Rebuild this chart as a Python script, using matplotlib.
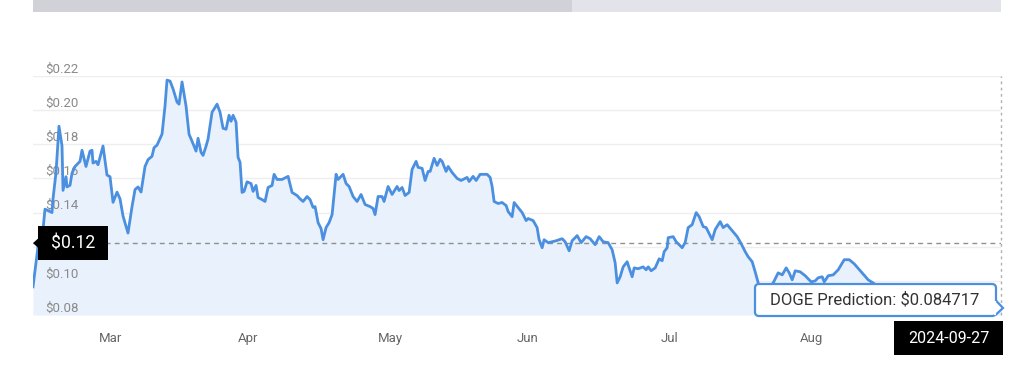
import matplotlib
matplotlib.use("Agg")
import matplotlib.pyplot as plt
import matplotlib.dates as mdates
import matplotlib.transforms as mtransforms
from matplotlib.patches import Rectangle, FancyBboxPatch, Polygon
import pandas as pd

plt.rcParams['font.family'] = ['Roboto', 'DejaVu Sans']

# ---------------- data ----------------
start_date = "2024-03-01"
day_offsets = [
    -1.53, -0.44, 0.66, 1.09, 2.62, 2.84, 3.50, 4.15, 4.81, 5.03,
    5.68, 5.90, 6.56, 6.99, 7.65, 8.74, 9.18, 10.05, 10.93, 11.37,
    11.58, 12.24, 12.68, 13.77, 14.64, 15.30, 15.96, 16.83, 17.49, 18.14,
    19.23, 20.11, 20.77, 21.42, 22.08, 22.95, 23.61, 24.48, 24.92, 25.57,
    26.67, 27.32, 27.76, 28.42, 29.07, 29.95, 30.38, 31.04, 31.91, 32.57,
    33.22, 34.10, 34.54, 35.19, 35.63, 36.28, 36.72, 37.60, 38.03, 38.69,
    39.34, 40.00, 40.66, 41.31, 41.75, 42.19, 42.84, 43.28, 43.72, 44.15,
    44.59, 45.25, 46.12, 46.56, 47.21, 47.65, 48.52, 49.18, 49.84, 50.71,
    51.15, 51.80, 52.90, 53.77, 54.21, 55.08, 56.17, 56.83, 57.49, 58.36,
    59.02, 59.67, 60.11, 60.77, 61.42, 61.86, 62.51, 63.17, 63.83, 64.70,
    65.14, 66.23, 66.89, 67.54, 68.42, 69.29, 70.16, 71.04, 72.13, 72.79,
    73.22, 73.88, 74.75, 75.19, 76.07, 76.94, 78.03, 78.47, 79.13, 79.78,
    80.66, 81.31, 82.19, 82.62, 83.50, 84.15, 84.81, 85.25, 86.12, 86.78,
    87.43, 87.87, 88.74, 89.18, 90.05, 91.15, 92.02, 93.33, 93.77, 94.64,
    95.30, 96.17, 97.70, 98.36, 98.80, 99.23, 100.11, 100.98, 101.86, 102.30,
    103.17, 103.61, 104.48, 105.36, 106.23, 106.67, 107.76, 108.63, 109.07, 109.73,
    110.16, 111.04, 111.91, 112.79, 113.44, 114.10, 114.75, 115.63, 116.28, 117.38,
    118.25, 119.34, 120.22, 121.31, 122.19, 123.06, 124.15, 125.03, 125.68, 126.12,
    126.78, 127.43, 128.31, 128.74, 129.40, 129.84, 130.71, 131.80, 132.46, 132.90,
    133.55, 134.43, 135.30, 135.96, 136.39, 137.05, 137.27, 138.36, 139.02, 140.33,
    140.98, 141.64, 142.51, 143.39, 144.04, 144.92, 145.57, 146.89, 147.54, 148.63,
    149.29, 150.16, 151.26, 152.35, 153.22, 154.10, 154.75, 155.63, 156.28, 156.94,
    158.00, 160.22, 161.31, 162.19, 163.06, 163.72, 164.37, 165.03, 166.12, 167.21,
    168.52, 169.40, 170.05, 170.93, 171.37, 172.24, 173.33, 174.43, 175.74, 176.83,
    177.92, 179.45, 180.98, 182.50,
]
prices = [
    0.0965, 0.1200, 0.1300, 0.1420, 0.1400, 0.1480, 0.1635, 0.1906, 0.1790, 0.1530,
    0.1610, 0.1550, 0.1560, 0.1630, 0.1670, 0.1700, 0.1765, 0.1670, 0.1760, 0.1765,
    0.1690, 0.1700, 0.1680, 0.1790, 0.1620, 0.1610, 0.1460, 0.1520, 0.1480, 0.1380,
    0.1280, 0.1435, 0.1535, 0.1550, 0.1520, 0.1670, 0.1710, 0.1730, 0.1780, 0.1795,
    0.1860, 0.2025, 0.2176, 0.2170, 0.2125, 0.2047, 0.2035, 0.2165, 0.2024, 0.1859,
    0.1818, 0.1760, 0.1835, 0.1753, 0.1735, 0.1788, 0.1830, 0.1988, 0.2006, 0.2035,
    0.1988, 0.1894, 0.1888, 0.1970, 0.1935, 0.1970, 0.1930, 0.1724, 0.1694, 0.1518,
    0.1524, 0.1580, 0.1570, 0.1524, 0.1559, 0.1488, 0.1476, 0.1465, 0.1547, 0.1559,
    0.1624, 0.1594, 0.1594, 0.1606, 0.1612, 0.1518, 0.1500, 0.1480, 0.1465, 0.1494,
    0.1476, 0.1430, 0.1435, 0.1341, 0.1306, 0.1241, 0.1312, 0.1341, 0.1388, 0.1624,
    0.1594, 0.1624, 0.1570, 0.1553, 0.1494, 0.1465, 0.1506, 0.1447, 0.1435, 0.1424,
    0.1388, 0.1494, 0.1494, 0.1465, 0.1553, 0.1506, 0.1553, 0.1529, 0.1547, 0.1500,
    0.1518, 0.1653, 0.1700, 0.1665, 0.1659, 0.1588, 0.1641, 0.1641, 0.1718, 0.1676,
    0.1712, 0.1700, 0.1641, 0.1670, 0.1635, 0.1600, 0.1588, 0.1606, 0.1582, 0.1612,
    0.1588, 0.1624, 0.1624, 0.1606, 0.1553, 0.1465, 0.1453, 0.1459, 0.1441, 0.1406,
    0.1376, 0.1459, 0.1430, 0.1400, 0.1353, 0.1365, 0.1353, 0.1312, 0.1241, 0.1194,
    0.1241, 0.1224, 0.1229, 0.1235, 0.1241, 0.1247, 0.1229, 0.1176, 0.1235, 0.1265,
    0.1224, 0.1259, 0.1247, 0.1212, 0.1259, 0.1229, 0.1224, 0.1182, 0.1106, 0.0988,
    0.1024, 0.1082, 0.1112, 0.1076, 0.1024, 0.1076, 0.1071, 0.1082, 0.1065, 0.1082,
    0.1059, 0.1076, 0.1129, 0.1118, 0.1171, 0.1194, 0.1253, 0.1259, 0.1229, 0.1194,
    0.1224, 0.1312, 0.1329, 0.1400, 0.1376, 0.1318, 0.1312, 0.1241, 0.1300, 0.1347,
    0.1312, 0.1329, 0.1294, 0.1259, 0.1218, 0.1171, 0.1141, 0.1112, 0.1053, 0.0988,
    0.0930, 0.0988, 0.1047, 0.1035, 0.1076, 0.1047, 0.1006, 0.1059, 0.1053, 0.1030,
    0.0994, 0.1000, 0.1018, 0.1024, 0.0994, 0.1030, 0.1035, 0.1065, 0.1124, 0.1124,
    0.1100, 0.1053, 0.1006, 0.0980,
]
prediction_date = "2024-09-27"
prediction_price = 0.084717
crosshair_price = 0.1221
crosshair_label = "$0.12"
y_ticks = [0.08, 0.10, 0.12, 0.14, 0.16, 0.18, 0.20, 0.22]
month_labels = ["Mar", "Apr", "May", "Jun", "Jul", "Aug"]
month_label_dates = ["2024-03-16 12:00", "2024-04-15 12:00", "2024-05-16 12:00",
                     "2024-06-15 12:00", "2024-07-16 12:00", "2024-08-16 12:00"]
tooltip_text = "DOGE Prediction: $0.084717"
date_label = "2024-09-27"

# ---------------- styling ----------------
W, H = 1024, 366
LINE = "#4a8fe0"
FILL = "#e9f1fc"
GRID = "#eeeeee"

fig = plt.figure(figsize=(W / 100, H / 100), dpi=100)
fig.patch.set_facecolor("white")


def fx(x):
    return x / W


def fy(y):
    return 1 - y / H


# top navigator bar
fig.add_artist(Rectangle((fx(33), fy(12)), fx(572) - fx(33), 12 / H,
                         facecolor="#d1d2d7", edgecolor="none"))
fig.add_artist(Rectangle((fx(572), fy(12)), fx(1001) - fx(572), 12 / H,
                         facecolor="#e3e4e9", edgecolor="none"))

ax = fig.add_axes([fx(33), fy(315), fx(1001) - fx(33), (315 - 76) / H])
ax.set_facecolor("white")

dates = list(pd.Timestamp(start_date) + pd.to_timedelta(day_offsets, unit="D"))
dates.append(pd.Timestamp(prediction_date))
vals = list(prices) + [prediction_price]
xnum = mdates.date2num(dates)

ax.fill_between(xnum, vals, y_ticks[0], color=FILL, lw=0, zorder=1)
ax.plot(xnum, vals, color=LINE, lw=2.0, zorder=3, solid_joinstyle="round")

ax.set_ylim(y_ticks[0], y_ticks[-1])
ax.set_xlim(xnum[0], xnum[-1])
ax.set_yticks(y_ticks)
ax.yaxis.grid(True, color=GRID, lw=1)
ax.set_axisbelow(True)
ax.tick_params(axis="y", length=0, labelleft=False)
for s in ax.spines.values():
    s.set_visible(False)

# y labels inside plot, above gridlines (the 0.12 label is hidden by the badge)
ytrans = mtransforms.offset_copy(ax.get_yaxis_transform(), fig=fig, x=0, y=3.5, units="dots")
for v in y_ticks:
    if abs(v - crosshair_price) < 0.005:
        continue
    ax.text((45 - 33) / (1001 - 33), v, f"${v:.2f}", transform=ytrans,
            ha="left", va="baseline", fontsize=9.5, color="#8a8a8a", zorder=2)

ax.set_xticks(mdates.date2num(pd.to_datetime(month_label_dates)))
ax.set_xticklabels(month_labels)
ax.tick_params(axis="x", length=0, pad=12, labelsize=9.5, labelcolor="#666666")

# crosshair lines
ax.axhline(crosshair_price, color="#8f8f8f", lw=1, ls=(0, (3.5, 3)), zorder=2)
ax.axvline(xnum[-1], color="#b0b0b0", lw=1, ls=(0, (2, 2.5)), zorder=2,
           ymax=1.0, clip_on=False)

# left price badge
ycp = ax.transData.transform((xnum[0], crosshair_price))[1]
ypix = H - ycp
fig.add_artist(Rectangle((fx(38), fy(ypix + 17)), 70 / W, 34 / H,
                         facecolor="black", edgecolor="none", zorder=10))
fig.add_artist(Polygon([(fx(33), fy(ypix)), (fx(38.5), fy(ypix - 5)), (fx(38.5), fy(ypix + 5))],
                       closed=True, facecolor="black", edgecolor="none", zorder=10))
fig.text(fx(73), fy(ypix), crosshair_label, color="white", fontsize=12.7,
         ha="center", va="center", zorder=11)

# tooltip
tx0, tx1, ty0, ty1 = 755, 996, 284, 316
fig.add_artist(FancyBboxPatch((fx(tx0), fy(ty1)), fx(tx1) - fx(tx0), (ty1 - ty0) / H,
                              boxstyle="round,pad=0,rounding_size=0.004",
                              facecolor="white", edgecolor=LINE, lw=1.6, zorder=12,
                              mutation_aspect=W / H))
fig.add_artist(Polygon([(fx(995.5), fy(300)), (fx(1003), fy(308)), (fx(995.5), fy(315))],
                       closed=False, facecolor="white", edgecolor=LINE, lw=1.6, zorder=13))
fig.add_artist(Rectangle((fx(994), fy(314.5)), 2.2 / W, 14 / H,
                         facecolor="white", edgecolor="none", zorder=14))
fig.text(fx(875), fy(300), tooltip_text, color="#333333", fontsize=12,
         ha="center", va="center", zorder=15)

# date badge
fig.add_artist(Rectangle((fx(894), fy(355)), 109 / W, 34 / H,
                         facecolor="black", edgecolor="none", zorder=10))
fig.text(fx(948.5), fy(338.5), date_label, color="white", fontsize=11.5,
         ha="center", va="center", zorder=11)

fig.savefig("out.png", dpi=100, facecolor="white")
